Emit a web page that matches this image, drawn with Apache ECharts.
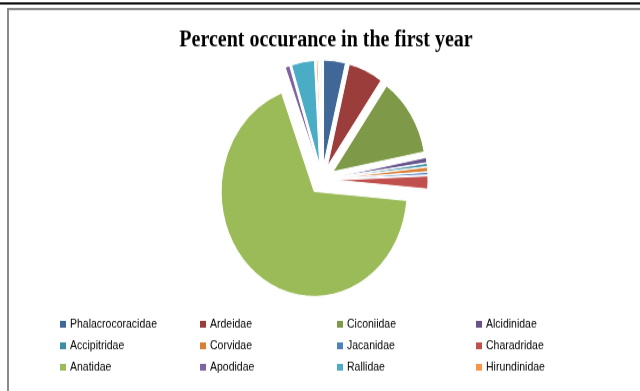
<!DOCTYPE html>
<html>
<head>
<meta charset="utf-8">
<script src="https://cdn.jsdelivr.net/npm/echarts@6/dist/echarts.min.js"></script>
<style>
  html, body { margin: 0; padding: 0; background: #fff; width: 640px; height: 391px; }
  #wrap { width: 640px; height: 391px; position: relative; }
  /* the source picture is stretched vertically, so stretch the drawing the same way */
  #chart { position: absolute; left: 0; top: 0; width: 640px; height: 346px; transform: scaleY(1.13); transform-origin: 0 0; }
</style>
</head>
<body>
<div id="wrap"><div id="chart"></div></div>
<script>
// families in pie order (clockwise from 12 o'clock)
const families = ['Phalacrocoracidae', 'Ardeidae', 'Ciconiidae', 'Alcidinidae',
  'Accipitridae', 'Corvidae', 'Jacanidae', 'Charadridae',
  'Anatidae', 'Apodidae', 'Rallidae', 'Hirundinidae', 'Other 1', 'Other 2', 'Other 3']
// percent occurance
const percents = [3.8, 6.0, 12.2, 0.8, 0.5, 0.7, 0.4, 2.0, 68.0, 0.8, 4.0, 0.3, 0.2, 0.2, 0.2]
const colors = ['#3F6797', '#9B3D3B', '#7E9A48', '#67528A', '#3A8EA6', '#D97F33',
  '#4F81BD', '#C0504D', '#9BBB59', '#8064A2', '#4BACC6', '#F79646',
  '#F2C9A8', '#C9C9C9', '#D3DCE8']
// legend layout: 4 columns of 3 rows
const legendColumns = [
  ['Phalacrocoracidae', 'Accipitridae', 'Anatidae'],
  ['Ardeidae', 'Corvidae', 'Apodidae'],
  ['Ciconiidae', 'Jacanidae', 'Rallidae'],
  ['Alcidinidae', 'Charadridae', 'Hirundinidae']
]
const legendLeft = [58, 198, 335, 474]

const chart = echarts.init(document.getElementById('chart'))

const pieData = families.map((name, i) => {
  return { name: name, value: percents[i], selected: true, itemStyle: { color: colors[i] } }
})

const legends = legendColumns.map((col, i) => {
  return {
    data: col,
    orient: 'vertical',
    left: legendLeft[i],
    top: 281,
    padding: 0,
    itemWidth: 8,
    itemHeight: 8,
    itemGap: 7,
    icon: 'rect',
    selectedMode: false,
    textStyle: { fontFamily: 'Liberation Sans', fontSize: 10.5, color: '#000', lineHeight: 12, padding: [0, 0, 0, -2] }
  }
})

chart.setOption({
  animation: false,
  title: {
    text: 'Percent occurance in the first year',
    left: 321,
    textAlign: 'center',
    top: 21,
    textStyle: { fontFamily: 'Liberation Serif', fontWeight: 'bold', fontSize: 20, color: '#000' }
  },
  legend: legends,
  graphic: [
    { type: 'rect', shape: { x: 0, y: 2, width: 640, height: 2 }, style: { fill: '#111' } },
    { type: 'rect', shape: { x: 8, y: 8, width: 700, height: 400 }, style: { fill: 'none', stroke: '#8a8a8a', lineWidth: 2 } }
  ],
  series: [
    {
      type: 'pie',
      center: [322, 159],
      radius: 93,
      startAngle: 90,
      clockwise: true,
      selectedMode: 'multiple',
      selectedOffset: 13,
      avoidLabelOverlap: false,
      label: { show: false },
      labelLine: { show: false },
      emphasis: { disabled: true },
      itemStyle: { borderColor: '#fff', borderWidth: 1 },
      data: pieData
    }
  ]
})
</script>
</body>
</html>
